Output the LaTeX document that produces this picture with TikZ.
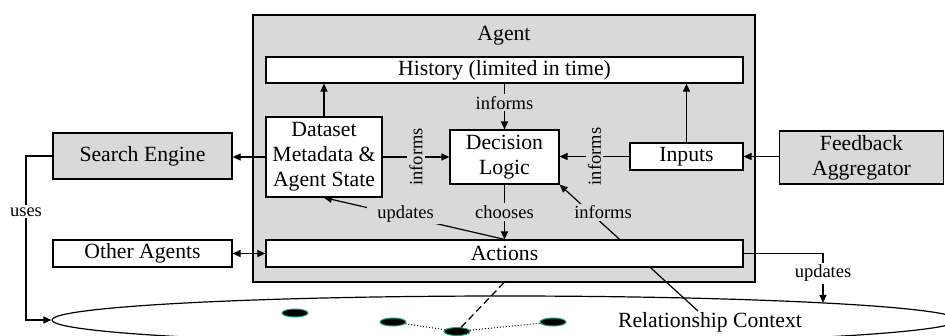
\documentclass[tikz,border=0pt]{standalone}
\usepackage{fontspec}
\setmainfont{Liberation Serif}
\usetikzlibrary{arrows.meta,shapes.geometric,calc}
\definecolor{agentgray}{HTML}{D9D9D9}
\definecolor{dotrim}{HTML}{1F9E83}
\newcommand\diagmain{\fontsize{21.7}{25}\selectfont}
\newcommand\diaglabel{\fontsize{18.5}{20}\selectfont}
\begin{document}
\begin{tikzpicture}[x=1pt,y=-1pt,
  box/.style={draw, line width=1.2pt, inner sep=0pt, align=center, font=\diagmain, fill=white},
  lblg/.style={font=\diaglabel, fill=agentgray, inner sep=2pt},
  lblw/.style={font=\diaglabel, fill=white, inner sep=2pt},
  arr/.style={-{Triangle[length=8pt,width=7pt]}, line width=1.2pt},
  arrboth/.style={{Triangle[length=8pt,width=7pt]}-{Triangle[length=8pt,width=7pt]}, line width=1.2pt},
  dot/.style={ellipse, fill=black, draw=dotrim, line width=1pt, minimum width=26pt, minimum height=8pt, inner sep=0pt}]
\useasboundingbox (0,0) rectangle (945,335);
\clip (0,0) rectangle (945,335);

% relationship context and its members
\node[draw, ellipse, line width=1.2pt, minimum width=906pt, minimum height=48pt, inner sep=0pt] (ctx) at (505,320) {};
\coordinate (ctxtop) at (823,302.9);
\node[dot] (d1) at (295,313) {};
\node[dot] (d2) at (393,322) {};
\node[dot] (d3) at (457,331.5) {};
\node[dot] (d4) at (553,322) {};
\draw[dotted, line width=1pt] (d2) -- (d3);
\draw[dotted, line width=1pt] (d3) -- (d4);
\node[font=\diagmain, inner sep=1pt] (rc) at (710,322) {Relationship Context};

% agent and its parts
\node[box, fill=agentgray, minimum width=502pt, minimum height=267pt] (ag) at (504,148.5) {};
\node[font=\diagmain] (agtitle) at (504,36) {Agent};
\node[box, minimum width=477pt, minimum height=26pt] (hist) at (504.5,70) {History (limited in time)};
\node[box, minimum width=116pt, minimum height=80pt] (ds) at (324,157) {Dataset\\Metadata \&\\Agent State};
\node[box, minimum width=109pt, minimum height=54pt] (dl) at (504.5,157) {Decision\\Logic};
\node[box, minimum width=113pt, minimum height=27pt] (inp) at (686.5,156.5) {Inputs};
\draw[arr] (rc) -- node[lblg, pos=0.78, xshift=13pt]{informs} (dl.south east);
\node[box, minimum width=477pt, minimum height=27pt] (act) at (504.5,253.5) {Actions};
\draw[dashed, line width=1.2pt, dash pattern=on 7pt off 4pt] (ag.south) -- (d3);

% outside components
\node[box, fill=agentgray, minimum width=179pt, minimum height=46pt] (se) at (142.5,156) {Search Engine};
\node[box, minimum width=179pt, minimum height=27pt] (oa) at (142.5,253.5) {Other Agents};
\node[box, fill=agentgray, minimum width=164pt, minimum height=53pt] (fb) at (861.5,157.5) {Feedback\\Aggregator};
\coordinate (uc) at (26,156);

% connectors inside the agent
\draw[arr] (ds.north) -- (ds.north |- hist.south);
\draw[arr] (inp.north) -- (inp.north |- hist.south);
\draw[arr] (hist.south) -- node[lblg, pos=0.42]{informs} (dl.north);
\draw[arr] (ds.east) -- node[lblg, rotate=90]{informs} (dl.west);
\draw[arr] (inp.west) -- node[lblg, rotate=90]{informs} (inp.west -| dl.east);
\draw[arr] (dl.south) -- node[lblg]{chooses} (act.north);
\draw[arr] (act.north) -- node[lblg, pos=0.57, xshift=4pt, yshift=2pt, inner xsep=10pt]{updates} (ds.south);

% connectors to the outside
\draw[arr] (ds.west) -- (ds.west -| se.east);
\draw[arr] (fb.west |- inp.east) -- (inp.east);
\draw[arrboth] (oa.east) -- (act.west);
\draw[arr] (se.west) -- (uc) |- node[lblw, pos=0.17]{uses} (ctx.west);
\draw[arr] (act.east) -| node[lblw, pos=0.7]{updates} (ctxtop);
\end{tikzpicture}
\end{document}
